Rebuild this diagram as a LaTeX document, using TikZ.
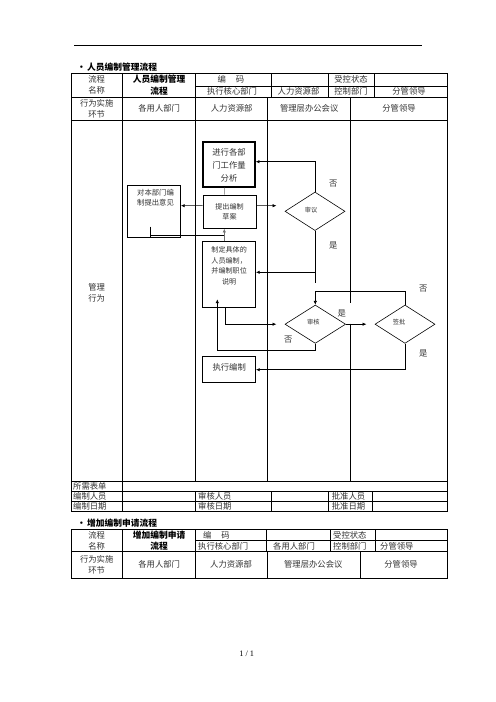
\documentclass[tikz,border=0pt]{standalone}
\usepackage{fontspec}
\setmainfont{Liberation Serif}
\newfontfamily\cjk{Noto Sans CJK SC}
\usetikzlibrary{shapes.geometric,arrows.meta,calc}
\begin{document}
\begin{tikzpicture}[x=1.2pt,y=-1.2pt,
  tl/.style={line width=0.6pt},
  tx/.style={font=\cjk\fontsize{10}{13.2}\selectfont, text=black!80, inner sep=0pt, align=center},
  txb/.style={font=\cjk\bfseries\fontsize{10.5}{13.8}\selectfont, text=black, inner sep=0pt, align=center},
  ttl/.style={font=\cjk\bfseries\fontsize{10.5}{12}\selectfont, text=black, inner sep=0pt, anchor=west},
  box/.style={draw, line width=0.7pt, inner sep=0pt},
  dia/.style={draw, diamond, line width=0.7pt, inner sep=0pt},
  ft/.style n args={2}{font=\cjk\fontsize{#1}{#2}\selectfont, text=black!80, inner sep=0pt, align=center},
  arr/.style={-{Latex[length=4.5pt,width=4pt]}, line width=0.7pt},
  ln/.style={line width=0.7pt},
  lab/.style={font=\cjk\fontsize{10}{12}\selectfont, text=black!80, inner sep=0pt}
]
\useasboundingbox (0,0) rectangle (496,702);
\fill[white] (0,0) rectangle (496,702);
\def\R{447.3}
% header rule
\draw[line width=1pt] (74,45) -- (422,45);
% ---------- table 1 ----------
\node[ttl] (title1) at (77,67.5) {•\hspace{1.5pt}人员编制管理流程};
\draw[tl] (71,73.3) rectangle (\R,511.7);
\draw[tl] (195.7,86) -- (\R,86);
\foreach \yy in {97.3,120,481.7,491.7,501.7} \draw[tl] (71,\yy) -- (\R,\yy);
\foreach \xx in {271,328.3,374} \draw[tl] (\xx,73.3) -- (\xx,97.3);
\draw[tl] (122.7,73.3) -- (122.7,511.7);
\draw[tl] (195.7,73.3) -- (195.7,481.7);
\draw[tl] (267.7,97.3) -- (267.7,481.7);
\draw[tl] (350.7,97.3) -- (350.7,303.3);
\draw[tl] (350.7,323.5) -- (350.7,481.7);
\foreach \xx in {195.7,271,328.3,372.3} \draw[tl] (\xx,491.7) -- (\xx,511.7);
% table 1 texts
\node[tx] (a1) at (96.7,85.3) {流程\\名称};
\node[txb] (a2) at (159.2,85.3) {人员编制管理\\流程};
\node[tx] (a3) at (231,79.7) {编\hspace{1.2em}码};
\node[tx] (a4) at (351,79.7) {受控状态};
\node[tx] (a5) at (232,91.7) {执行核心部门};
\node[tx] (a6) at (298.5,91.7) {人力资源部};
\node[tx] (a7) at (351,91.7) {控制部门};
\node[tx] (a8) at (409,91.7) {分管领导};
\node[tx] (a9) at (96.7,108.7) {行为实施\\环节};
\node[tx] (a10) at (159.2,108.7) {各用人部门};
\node[tx] (a11) at (231.7,108.7) {人力资源部};
\node[tx] (a12) at (309.2,108.7) {管理层办公会议};
\node[tx] (a13) at (399,108.7) {分管领导};
\node[tx] (a14) at (96.7,292.5) {管理\\行为};
\node[tx,anchor=west] (a15) at (73,486.7) {所需表单};
\node[tx,anchor=west] (a16) at (73,496.7) {编制人员};
\node[tx,anchor=west] (a17) at (198,496.7) {审核人员};
\node[tx,anchor=west] (a18) at (331.7,496.7) {批准人员};
\node[tx,anchor=west] (a19) at (73,506.7) {编制日期};
\node[tx,anchor=west] (a20) at (198,506.7) {审核日期};
\node[tx,anchor=west] (a21) at (331.7,506.7) {批准日期};
% ---------- flowchart ----------
\node[box, line width=1.6pt, minimum width=62.4pt, minimum height=54pt] (A) at (229,164.5) {};
\node[ft={10}{15.6}] (At) at (229,165) {进行各部\\门工作量\\分析};
\node[box, minimum width=63.6pt, minimum height=40pt, ft={8.5}{12}] (B) at (229.5,211.7) {提出编制\\草案};
\node[box, minimum width=64pt, minimum height=62.8pt] (C) at (154,211.2) {};
\node[ft={8.8}{12}] (Ct) at (155.5,198) {对本部门编\\制提出意见};
\node[box, minimum width=63.6pt, minimum height=79.2pt] (D) at (229.2,274.7) {};
\node[ft={8.5}{12.7}] (Dt) at (229.2,266) {制定具体的\\人员编制，\\并编制职位\\说明};
\node[box, minimum width=63.6pt, minimum height=31.2pt] (E) at (229.2,369.7) {};
\node[ft={10}{12}] (Et) at (229.2,367) {执行编制};
\node[dia, minimum width=72pt, minimum height=46.2pt] (SY) at (315,211.3) {};
\node[ft={7.5}{9}] (SYt) at (311,210) {审议};
\node[dia, minimum width=72.8pt, minimum height=46pt] (SH) at (315.3,324.2) {};
\node[ft={7.5}{9}] (SHt) at (313.3,321.7) {审核};
\node[dia, minimum width=72pt, minimum height=46pt] (SP) at (405,324.2) {};
\node[ft={7.5}{9}] (SPt) at (399,321.7) {签批};
% connectors
\draw[ln, black!55] ($(B.north)+(-5.2,0)$) -- ($(A.south)+(-4.7,0)$);
\draw[arr] ($(B.west)+(0,-6)$) -- ($(C.east)+(0,-5.5)$);
\draw[arr] ($(B.east)+(0,-6)$) -- ($(SY.west)+(-8.3,-5.6)$);
\draw[arr] (SY.north) |- ($(A.east)+(0,-2.8)$);
\draw[ln] (SY.south) -- ++(0,52.6);
\coordinate (j1) at (315,272.3);
\draw[arr] (j1) -- (j1 -| D.east);
\coordinate (c1) at (150,226.7);
\coordinate (c2) at (150,235);
\draw[ln] (c1) -- ++(0,11.6);
\draw[ln] (c2) -- (224.3,235);
\draw[arr, black!55] (224.3,235) -- ($(B.south)+(-5.2,0)$);
\draw[ln, black!55] ($(D.north)+(-4.9,0)$) -- (224.3,235);
\draw[arr] ($(D.south)+(-3.5,0)$) |- ($(SH.west)+(-8.3,0)$);
\draw[arr] (SH.east) -- ($(SP.west)+(-8.3,0)$);
\draw[arr] (SP.north) -- ++(0,-13.3) -| (SH.north);
\draw[arr] (SH.south) -- ++(0,6.7) -| ($(D.south)+(-11.9,-8.7)$);
\draw[arr] (SP.south) |- (E.east);
% yes/no labels
\node[lab] (l1) at (333.3,184) {否};
\node[lab] (l2) at (333.3,246) {是};
\node[lab] (l3) at (423.3,289) {否};
\node[lab] (l4) at (341.7,314) {是};
\node[lab] (l5) at (288.3,339.3) {否};
\node[lab] (l6) at (423.3,354) {是};
% ---------- table 2 ----------
\node[ttl] (title2) at (77,523) {•\hspace{1.5pt}增加编制申请流程};
\draw[tl] (71,529.3) rectangle (\R,578.3);
\draw[tl] (195.7,540.7) -- (\R,540.7);
\draw[tl] (71,551.7) -- (\R,551.7);
\draw[tl] (122.7,529.3) -- (122.7,578.3);
\draw[tl] (195.7,529.3) -- (195.7,578.3);
\foreach \xx in {266.7,330,375} \draw[tl] (\xx,529.3) -- (\xx,551.7);
\foreach \xx in {267.7,360} \draw[tl] (\xx,551.7) -- (\xx,578.3);
\node[tx] (b1) at (96.7,540.5) {流程\\名称};
\node[txb] (b2) at (159.2,540.5) {增加编制申请\\流程};
\node[tx,anchor=west] (b3) at (203,535) {编\hspace{1.2em}码};
\node[tx,anchor=west] (b4) at (333,535) {受控状态};
\node[tx,anchor=west] (b5) at (198,546.2) {执行核心部门};
\node[tx,anchor=west] (b6) at (273,546.2) {各用人部门};
\node[tx,anchor=west] (b7) at (333,546.2) {控制部门};
\node[tx,anchor=west] (b8) at (380,546.2) {分管领导};
\node[tx] (b9) at (96.7,565) {行为实施\\环节};
\node[tx] (b10) at (159.2,564) {各用人部门};
\node[tx] (b11) at (231,564) {人力资源部};
\node[tx] (b12) at (313.3,564) {管理层办公会议};
\node[tx] (b13) at (401,564) {分管领导};
% page number
\node[font=\fontsize{10}{12}\selectfont, inner sep=0pt] (pg) at (246.7,654) {1 / 1};
\end{tikzpicture}
\end{document}
